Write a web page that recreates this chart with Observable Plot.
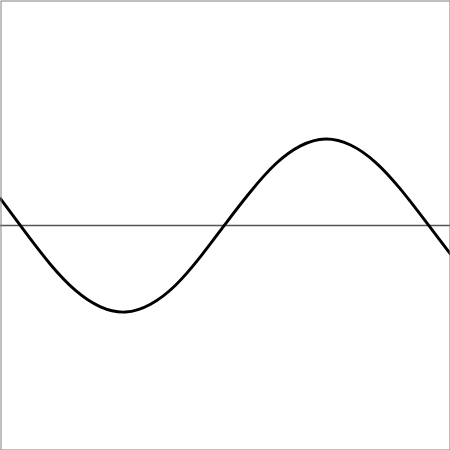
<!DOCTYPE html>
<html>
<head>
<meta charset="utf-8">
<script src="https://cdn.jsdelivr.net/npm/d3@7"></script>
<script src="https://cdn.jsdelivr.net/npm/@observablehq/plot@0.6"></script>
<style>
  html, body { margin: 0; padding: 0; background: #fff; }
  svg { display: block; }
</style>
</head>
<body>
<div id="chart"></div>
<script>
// Values
const xs = [0, 25, 50, 75, 100, 125, 150, 175, 200, 225, 250, 275, 300, 325, 350, 375, 400, 425, 450];
const ys = [0.31, -0.08, -0.45, -0.75, -0.94, -1.00, -0.91, -0.69, -0.36, 0.02, 0.39, 0.71, 0.92, 1.00, 0.93, 0.73, 0.42, 0.05, -0.33];
const baseline = [0];

const data = xs.map((x, i) => ({x, y: ys[i]}));

const chart = Plot.plot({
  width: 450,
  height: 450,
  margin: 0,
  x: {domain: [0, 450], axis: null},
  y: {domain: [-2.6, 2.6], axis: null},
  marks: [
    Plot.ruleY(baseline, {stroke: "#555", strokeWidth: 1.5}),
    Plot.line(data, {x: "x", y: "y", curve: "natural", stroke: "#000", strokeWidth: 2.9}),
    Plot.frame({stroke: "#808080", inset: 0.5})
  ]
});
document.getElementById("chart").appendChild(chart);
</script>
</body>
</html>
